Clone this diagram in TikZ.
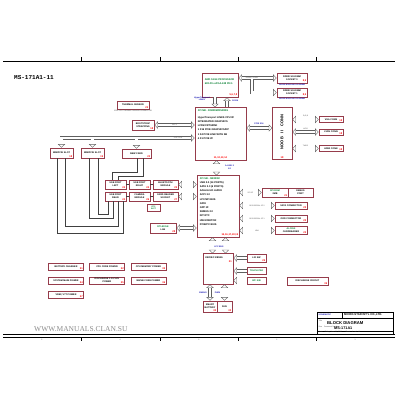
\documentclass[tikz,border=0pt]{standalone}
\usepackage{fontspec}
\setmainfont{Liberation Sans}
\newfontfamily\wmfont{Liberation Serif}
\newfontfamily\ttlfont{Liberation Mono}
\usetikzlibrary{arrows.meta,positioning}

\definecolor{boxred}{RGB}{150,60,75}
\definecolor{chipgreen}{RGB}{0,125,45}
\definecolor{sigblue}{RGB}{25,25,180}
\definecolor{busgray}{RGB}{95,95,95}

\tikzset{
  blk/.style={draw=boxred, line width=0.7pt, fill=white, inner sep=0.8pt, align=center,
    font=\fontsize{2.3}{2.8}\selectfont\bfseries},
  num/.style={text=red, font=\fontsize{2.5}{3}\selectfont\bfseries, inner sep=0.9pt},
  sig/.style={text=sigblue, font=\fontsize{2.1}{2.5}\selectfont\bfseries, inner sep=0pt, align=center},
  note/.style={text=black!70, font=\fontsize{1.8}{2.2}\selectfont, inner sep=0pt, align=center},
  bus/.style={draw=busgray, line width=0.35pt, double=white, double distance=2.6pt,
    >={Triangle[open, length=3.5pt, width=7.2pt, line width=0.35pt]}},
  wire/.style={draw=black!75, line width=0.4pt},
}

\begin{document}
\begin{tikzpicture}[x=1pt, y=-1pt]
\useasboundingbox (0,0) rectangle (400,400);
\fill[white] (0,0) rectangle (400,400);

% frame
\draw[line width=0.5pt] (3,61) -- (395,61);
\draw[line width=0.5pt] (3,334) -- (395,334);
\draw[line width=0.3pt] (3,337) -- (395,337);
\foreach \x in {81,160,238,316}{
  \draw[line width=0.3pt] (\x,57) -- (\x,61);
  \draw[line width=0.3pt] (\x,337) -- (\x,341);
}
\foreach \x/\n in {42/5,120/4,199/3,277/2,355/1}{
  \node[note] at (\x,339.5) {\n};
}
\node[anchor=west, font=\ttlfont\fontsize{6}{6}\selectfont\bfseries, inner sep=0pt] (title) at (14,78) {MS-171A1-11};

% cpu and memory
\node[blk, minimum width=36, minimum height=24, label={[num,anchor=south east]south east:{5,6,7,8}}] (cpu) at (220,85) {};
\node[anchor=north west, align=left, inner sep=0pt, font=\fontsize{2.5}{4}\selectfont\bfseries, text=chipgreen] at ([shift={(3,6)}]cpu.north west) {AMD S1G4 PROCESSOR\\638-Pin uPGA-638 PKG};
\node[blk, minimum width=30, minimum height=10, label={[num,anchor=south east]south east:{8,9}}] (ddr1) at (292,78) {DDRIII SO-DIMM\\SOCKET 0};
\node[blk, minimum width=30, minimum height=9, label={[num,anchor=south east]south east:{8,9}}] (ddr2) at (292,92.5) {DDRIII SO-DIMM\\SOCKET 1};
\node[sig, below=0.5pt of ddr1] {DDRIII 800/1066 SO-DIMM};
\node[sig, below=0.5pt of ddr2] {DDRIII 800/1066 SO-DIMM};
\coordinate (ddrsplit) at (252,79.3);
\draw[bus,<->] (cpu.east |- ddr1.west) -- (ddr1.west) node[pos=0.35, note] {DDRIII CH A/B};
\draw[bus,->] (ddrsplit) |- (ddr2.west);

% north bridge
\node[blk, minimum width=51, minimum height=53, label={[num,anchor=south]south:{11,12,13,14}}] (nb) at (220.5,133.5) {};
\node[anchor=north west, align=left, inner sep=0pt, font=\fontsize{2.5}{4.2}\selectfont\bfseries] at ([shift={(3,2.5)}]nb.north west) {\textcolor{chipgreen}{ATI NB - RS880M/RS880G}\\[3pt]HyperTransport LINKS CPU I/F\\INTEGRATED GRAPHICS\\LVDS/CRT/HDMI\\1 X16 PCIE GRAPHICS/DP\\1 X4 PCIE LINK WITH SB\\4 X1 PCIE I/F};
\draw[bus,->] ([xshift=-5pt]cpu.south) -- ++(0,10);
\draw[bus,<-] ([xshift=7pt]cpu.south) -- ++(0,10);
\node[sig, anchor=east] at (210,99) {HyperTransport\\LINKS};
\node[sig, anchor=west] at (232,101) {16X16};

\node[blk, minimum width=32, minimum height=8, label={[num,anchor=south east]south east:23}] (thermal) at (133,105) {THERMAL SENSOR};
\node[note, below=0.6pt of thermal] {G781 CPU THERMAL SENSOR CONNECTOR};
\node[blk, minimum width=22, minimum height=10, label={[num,anchor=south east]south east:18}] (boot) at (143,125) {BOOTSTRAP\\STRAPPING};
\draw[bus,<->] (boot.east) -- (boot.east -| nb.west) node[midway, note] {DDI 1};

% video side
\node[blk, minimum width=20, minimum height=52, label={[num,anchor=south]south:18}] (noob) at (282,133) {};
\node[rotate=90, font=\fontsize{4}{4}\selectfont\bfseries, inner sep=0pt] at (282,132) {NOOB\quad II\quad CONN};
\draw[bus,<->] ([yshift=5.5pt]nb.east) -- ++(26,0);
\node[sig] at (259,123.5) {PCIE X16};
\node[blk, minimum width=24, minimum height=6, label={[num,anchor=south east]south east:18}] (vga) at (331,119.5) {VGA CONN};
\node[blk, minimum width=24, minimum height=6, label={[num,anchor=south east]south east:18}] (lvds) at (331,132) {LVDS CONN};
\node[blk, minimum width=24, minimum height=6, label={[num,anchor=south east]south east:18}] (hdmi) at (331,148.5) {HDMI CONN};
\draw[bus,<->] (vga.west -| noob.east) -- (vga.west) node[midway, note, above=2.2pt] {R,G,B};
\draw[bus,<->] (lvds.west -| noob.east) -- (lvds.west) node[midway, note, above=2.2pt] {LVDS};
\draw[bus,<->] (hdmi.west -| noob.east) -- (hdmi.west) node[midway, note, above=2.2pt] {TMDS};

% pcie slots
\node[blk, minimum width=23, minimum height=10, label={[num,anchor=south east]south east:18}] (mpc1) at (61.5,153) {MINIPCIE SLOT};
\node[blk, minimum width=23, minimum height=10, label={[num,anchor=south east]south east:19}] (mpc2) at (92.5,153) {MINIPCIE SLOT};
\node[blk, minimum width=29, minimum height=9, label={[num,anchor=south east]south east:20}] (newcard) at (136.5,153.5) {NEW CARD};
\coordinate (pcie) at (61.5,138);
\coordinate (pcieb) at (61.5,139.3);
\draw[bus,<->] (nb.west |- pcie) -- (pcie) -- (mpc1.north);
\draw[bus,->] (mpc2.north |- pcieb) -- (mpc2.north);
\draw[bus,->] (newcard.north |- pcieb) -- (newcard.north);
\node[note] at (178,138) {4 X1 PCIE};

% south bridge
\node[blk, minimum width=42, minimum height=62, label={[num,anchor=south east]south east:{15,16,17,18,19}}] (sb) at (218,206) {};
\node[anchor=north west, align=left, inner sep=0pt, font=\fontsize{2.5}{4.2}\selectfont\bfseries] at ([shift={(3,2.5)}]sb.north west) {\textcolor{chipgreen}{ATI SB - SB820M}\\USB 2.0 (14 PORTS)\\SATA 2.0 (6 PORTS)\\AZALIA HD AUDIO\\ACPI 3.0\\LPC/SPI BUS\\GPIO\\GPP I/F\\SMBUS 2.0\\INT RTC\\HW MONITOR\\PCIE/PCI BUS};
\draw[bus,<->] ([xshift=-4pt]nb.south) -- ++(0,15);
\node[sig] at (229.5,167.5) {A-LINK II\\X4};

% usb and card boxes
\foreach \n/\x/\y/\w/\t/\p in {
  ua1/115.5/184.5/21/{USB PORT\\LEFT}/24, ub1/139.5/184.5/21/{USB PORT\\RIGHT}/24,
  uc1/165.5/184.5/25/{BLUETOOTH\\MODULE}/25, ua2/115.5/196.5/21/{USB PORT\\REAR}/24,
  ub2/139.5/196.5/21/{CAMERA\\MODULE}/26, uc2/165.5/196.5/25/{CARD READER\\SOCKET}/27}{
  \node[blk, minimum width=\w, minimum height=9, label={[num,anchor=south east]south east:\p}] (\n) at (\x,\y) {\t};
}
\draw[wire] (ua1.east) -- (ub1.west);
\draw[wire] (ub1.east) -- (uc1.west);
\draw[wire] (ua2.east) -- (ub2.west);
\draw[wire] (ub2.east) -- (uc2.west);
\draw[bus,<->] (uc1.east) -- (uc1.east -| sb.west);
\draw[bus,<->] (uc2.east) -- (uc2.east -| sb.west);
\draw[wire] ([xshift=-4.5pt]mpc1.south) -- ++(0,75) -| ([xshift=7.5pt]ua2.south);
\draw[wire] ([xshift=3.5pt]mpc1.south) -- ++(0,68) -| ([xshift=2.5pt]ua2.south);
\draw[wire] ([xshift=-3.5pt]mpc2.south) -- ++(0,60) -| ([xshift=-2.5pt]ua2.south);
\draw[wire] ([xshift=5.5pt]mpc2.south) -- ++(0,56) -| ([xshift=-7.5pt]ua2.south);
\draw[wire] ([xshift=0.5pt]newcard.south) -- ++(0,14) -| ([xshift=-3pt]ua1.north);
\draw[wire] ([xshift=6.5pt]newcard.south) -- ++(0,17.5) -| ([xshift=3pt]ua1.north);

\node[blk, minimum width=13, minimum height=7, text=chipgreen, font=\fontsize{1.9}{2.3}\selectfont\bfseries] (rtc) at (153.5,208) {RTC\\BATT};
\node[blk, minimum width=26, minimum height=10, label={[num,anchor=south east]south east:28}] (lan) at (163,228) {\textcolor{chipgreen}{RTL8105E}\\LAN};
\draw[bus,<->] (lan.east) -- (lan.east -| sb.west);

% sb right side
\node[blk, minimum width=26, minimum height=9, label={[num,anchor=south east]south east:21}] (spirom) at (275,192.5) {\textcolor{chipgreen}{SPI ROM}\\2MB};
\node[blk, minimum width=25, minimum height=9] (dbg) at (300.5,192.5) {DEBUG\\PORT};
\node[blk, minimum width=32, minimum height=7, label={[num,anchor=south east]south east:22}] (sata) at (291,205.5) {SATA CONNECTOR};
\node[blk, minimum width=32, minimum height=7, label={[num,anchor=south east]south east:22}] (odd) at (291,218.5) {ODD CONNECTOR};
\node[blk, minimum width=32, minimum height=8, label={[num,anchor=south east]south east:23}] (codec) at (291,230.5) {\textcolor{chipgreen}{ALC269}\\CARDREADER};
\draw[bus,<->] (spirom.west -| sb.east) -- (spirom.west) node[midway, note] {SPI I/F};
\draw[bus,<->] (sata.west -| sb.east) -- (sata.west) node[midway, note] {SATA SERIAL I/F 0};
\draw[bus,<->] (odd.west -| sb.east) -- (odd.west) node[midway, note] {SATA SERIAL I/F 1};
\draw[bus,<->] (codec.west -| sb.east) -- (codec.west) node[midway, note] {HDA};

% embedded controller
\node[blk, minimum width=30, minimum height=31] (ec) at (218,268.5) {};
\node[anchor=north west, inner sep=0pt, font=\fontsize{2.4}{3}\selectfont\bfseries] at ([shift={(2.5,3.5)}]ec.north west) {KBC/EC KB926};
\node[num] at ([shift={(-3,9)}]ec.north east) {21};
\draw[bus,<->] ([xshift=-5.5pt]sb.south) -- ++(0,16);
\draw[bus,<->] ([xshift=7.5pt]sb.south) -- ++(0,16);
\node[sig] at (219,247) {LPC BUS};
\node[blk, minimum width=19, minimum height=8, label={[num,anchor=south east]south east:29}] (lid) at (256.5,258) {LID SW};
\node[blk, minimum width=19, minimum height=7, text=chipgreen] (tp) at (256.5,271) {TOUCH PAD};
\node[blk, minimum width=19, minimum height=7, text=chipgreen] (kb) at (256.5,280.5) {INT. K/B};
\draw[bus,->] (lid.west) -- (lid.west -| ec.east);
\draw[bus,->] (tp.west) -- (tp.west -| ec.east);
\draw[bus,->] (kb.west) -- (kb.west -| ec.east);
\node[blk, minimum width=14, minimum height=11, label={[num,anchor=south east]south east:30}] (batt) at (210,306.5) {SMART\\BATTERY};
\node[blk, minimum width=15, minimum height=11, label={[num,anchor=south east]south east:30}] (fan) at (224.5,306.5) {FAN};
\draw[bus,<->] (batt.north |- ec.south) -- (batt.north);
\draw[bus,<->] (fan.north |- ec.south) -- (fan.north);
\node[sig, anchor=east] at (207,292.5) {SMBUS};
\node[sig] at (217.5,292.5) {PWM};

\node[blk, minimum width=41, minimum height=8, label={[num,anchor=south east]south east:39}] (dischg) at (307.5,281) {DISCHARGE CIRCUIT};

% power
\foreach \n/\x/\y/\t/\p in {
  pwrchg/66/266.5/{BATTERY CHARGER}/31, pwrcpu/107/266.5/{CPU CORE POWER}/32,
  pwrmem/148.5/266.5/{CPU MEMORY POWER}/33, pwrsys/66/280.5/{SYSTEM MAIN POWER}/34,
  pwrdis/107/280.5/{DISCHARGE 1.1V/1.8V\\POWER}/35, pwrcore/148.5/280.5/{NB/SB CORE POWER}/36,
  pwrvtt/66/295/{VREF, VTT POWER}/37}{
  \node[blk, minimum width=35, minimum height=7, label={[num,anchor=south east]south east:\p}] (\n) at (\x,\y) {\t};
}

\node[anchor=west, font=\wmfont\fontsize{7.5}{7.5}\selectfont, text=black!45, inner sep=0pt] (wm) at (34,329.5) {WWW.MANUALS.CLAN.SU};

% title block
\draw[line width=0.5pt] (317,312) rectangle (393,334);
\draw[line width=0.3pt] (317,318) -- (393,318);
\draw[line width=0.3pt] (317,331) -- (393,331);
\draw[line width=0.3pt] (342,312) -- (342,318);
\node[anchor=west, sig] at (318.5,315) {SCHEMATIC};
\node[anchor=west, font=\fontsize{2.8}{3}\selectfont\bfseries, inner sep=0pt] at (344,315) {MICRO-STAR INT'L CO.,LTD.};
\node[anchor=west, note] at (318.5,320.5) {Title};
\node[anchor=west, font=\fontsize{4.2}{4.2}\selectfont\bfseries, inner sep=0pt] at (327,323.5) {BLOCK DIAGRAM};
\node[anchor=west, note] at (318.5,327) {Size\quad Document Number};
\node[anchor=west, font=\fontsize{3.8}{3.8}\selectfont\bfseries, inner sep=0pt] at (334,328.5) {MS-171A1};
\node[anchor=west, note] at (318.5,332.5) {Date:\quad Friday, June 11, 2010\qquad Sheet\quad 1\quad of\quad 40};
\end{tikzpicture}
\end{document}
